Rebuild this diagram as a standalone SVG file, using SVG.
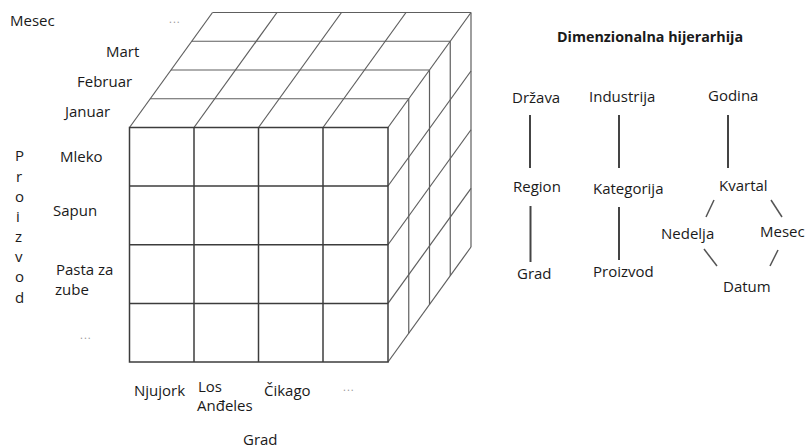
<svg xmlns="http://www.w3.org/2000/svg" width="805" height="448" viewBox="0 0 805 448">
  <style>
    text { font-family: "Open Sans", "Liberation Sans", sans-serif; font-size: 15px; fill: #1a1a1a; }
    .title { font-weight: bold; font-size: 14.3px; }
    .dots { font-size: 11px; fill: #999; letter-spacing: 1px; }
    .front { stroke: #3c3c3c; stroke-width: 1.5; fill: none; }
    .side { stroke: #5e5e5e; stroke-width: 1.2; fill: none; }
    .link { stroke: #444; stroke-width: 2; }
    .slash { stroke: #555; stroke-width: 1.5; }
  </style>

  <rect width="805" height="448" fill="#fff"/>

  <!-- data cube: 4 cities x 4 products x 4 months, depth step (20.75, -28.75) -->
  <g id="cube">
    <g id="cube-top" class="side">
      <!-- depth rows on top face -->
      <line x1="150.25" y1="98.75" x2="408.75" y2="98.75"/>
      <line x1="171" y1="70" x2="429.5" y2="70"/>
      <line x1="191.75" y1="41.25" x2="450.25" y2="41.25"/>
      <line x1="212.5" y1="12.5" x2="471" y2="12.5"/>
      <!-- receding column edges -->
      <line x1="129.5" y1="127.5" x2="212.5" y2="12.5"/>
      <line x1="194" y1="127.5" x2="277" y2="12.5"/>
      <line x1="258.5" y1="127.5" x2="341.5" y2="12.5"/>
      <line x1="323" y1="127.5" x2="406" y2="12.5"/>
      <line x1="388" y1="127.5" x2="471" y2="12.5"/>
    </g>
    <g id="cube-right" class="side">
      <!-- depth slices on right face -->
      <line x1="408.75" y1="98.75" x2="408.75" y2="333.25"/>
      <line x1="429.5" y1="70" x2="429.5" y2="304.5"/>
      <line x1="450.25" y1="41.25" x2="450.25" y2="275.75"/>
      <line x1="471" y1="12.5" x2="471" y2="247"/>
      <!-- receding row edges -->
      <line x1="388" y1="186" x2="471" y2="71"/>
      <line x1="388" y1="244.75" x2="471" y2="129.75"/>
      <line x1="388" y1="303.4" x2="471" y2="188.4"/>
      <line x1="388" y1="362" x2="471" y2="247"/>
    </g>
    <g id="cube-front" class="front">
      <rect x="129.5" y="127.5" width="258.5" height="234.5"/>
      <line x1="194" y1="127.5" x2="194" y2="362"/>
      <line x1="258.5" y1="127.5" x2="258.5" y2="362"/>
      <line x1="323" y1="127.5" x2="323" y2="362"/>
      <line x1="129.5" y1="186" x2="388" y2="186"/>
      <line x1="129.5" y1="244.75" x2="388" y2="244.75"/>
      <line x1="129.5" y1="303.4" x2="388" y2="303.4"/>
    </g>
  </g>

  <!-- month axis -->
  <g id="axis-mesec">
    <text x="10" y="25.5">Mesec</text>
    <text class="dots" x="169" y="23">...</text>
    <text x="106" y="57">Mart</text>
    <text x="77" y="86.5">Februar</text>
    <text x="65" y="116.5">Januar</text>
  </g>

  <!-- product axis -->
  <g id="axis-proizvod">
    <text x="15" y="161">P</text>
    <text x="16" y="182">r</text>
    <text x="15" y="202">o</text>
    <text x="16" y="222">i</text>
    <text x="15" y="242">z</text>
    <text x="15" y="262">v</text>
    <text x="15" y="282">o</text>
    <text x="15" y="303">d</text>
    <text x="60" y="162">Mleko</text>
    <text x="53" y="216">Sapun</text>
    <text x="56" y="274.5">Pasta za</text>
    <text x="55" y="295">zube</text>
    <text class="dots" x="80" y="339">...</text>
  </g>

  <!-- city axis -->
  <g id="axis-grad">
    <text x="134" y="396">Njujork</text>
    <text x="198" y="391.5">Los</text>
    <text x="197" y="410.5">Anđeles</text>
    <text x="264" y="396">Čikago</text>
    <text class="dots" x="343" y="391">...</text>
    <text x="243" y="445">Grad</text>
  </g>

  <!-- dimension hierarchies -->
  <g id="hierarchy-title">
    <text class="title" x="557" y="42">Dimenzionalna hijerarhija</text>
  </g>
  <g id="node-drzava"><text x="512" y="103">Država</text></g>
  <g id="node-region"><text x="513" y="192">Region</text></g>
  <g id="node-grad"><text x="517" y="279">Grad</text></g>
  <g id="node-industrija"><text x="589" y="102">Industrija</text></g>
  <g id="node-kategorija"><text x="593" y="194">Kategorija</text></g>
  <g id="node-proizvod"><text x="593" y="276.5">Proizvod</text></g>
  <g id="node-godina"><text x="708" y="101">Godina</text></g>
  <g id="node-kvartal"><text x="719" y="191">Kvartal</text></g>
  <g id="node-nedelja"><text x="661" y="239">Nedelja</text></g>
  <g id="node-mesec"><text x="760" y="237">Mesec</text></g>
  <g id="node-datum"><text x="723" y="292">Datum</text></g>

  <g id="connectors">
    <line class="link" x1="530" y1="115" x2="530" y2="168"/>
    <line class="link" x1="530.5" y1="206" x2="530.5" y2="262"/>
    <line class="link" x1="619" y1="115" x2="619" y2="168"/>
    <line class="link" x1="619" y1="207" x2="619" y2="260"/>
    <line class="link" x1="728" y1="115" x2="728" y2="168"/>
    <line class="slash" x1="714" y1="200" x2="706" y2="217"/>
    <line class="slash" x1="771" y1="200" x2="782" y2="217"/>
    <line class="slash" x1="704" y1="249" x2="717" y2="266"/>
    <line class="slash" x1="778" y1="250" x2="770" y2="266"/>
  </g>
</svg>
